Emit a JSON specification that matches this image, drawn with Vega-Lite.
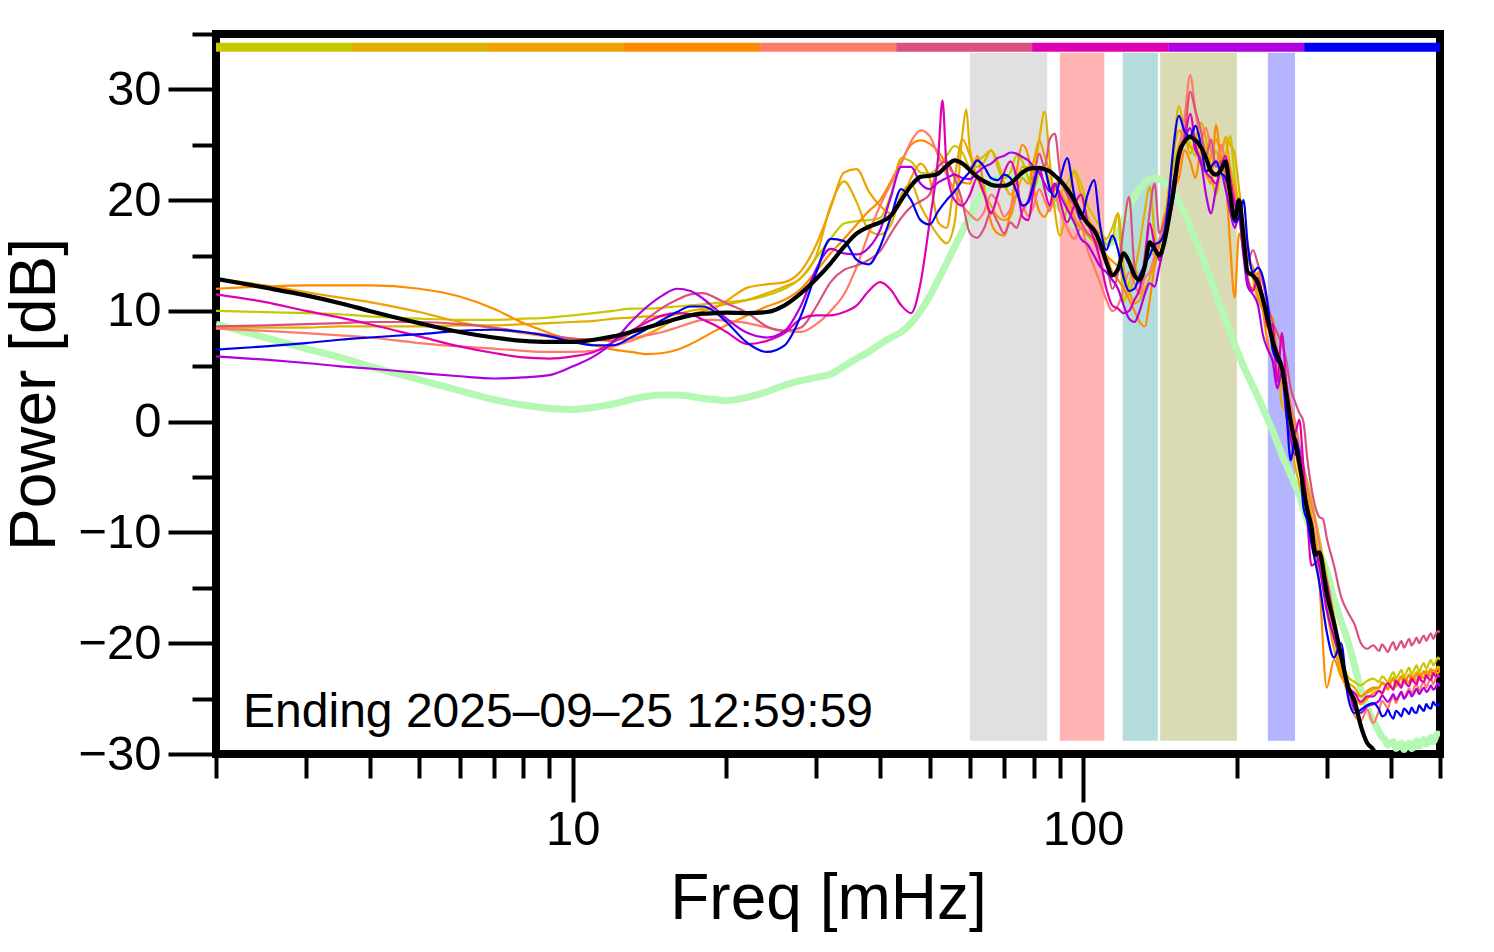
{
"$schema":"https://vega.github.io/schema/vega-lite/v6.json",
"width":1224,"height":720,
"autosize":{"type":"none"},
"padding":{"left":216,"top":34,"right":54,"bottom":198},
"config":{"view":{"stroke":"#000","strokeWidth":8},"font":"Liberation Sans"},
"resolve":{"axis":{"x":"independent","y":"independent"}},
"datasets":{
"bands":[{"lo":60,"hi":85,"band":"b1"},{"lo":90,"hi":110,"band":"b2"},{"lo":119.5,"hi":140,"band":"b3"},{"lo":141.5,"hi":200,"band":"b4"},{"lo":230,"hi":260,"band":"b5"}],
"bar":[{"lo":2,"hi":3.694,"s":"yg"},{"lo":3.694,"hi":6.824,"s":"go"},{"lo":6.824,"hi":12.6,"s":"or"},{"lo":12.6,"hi":23.28,"s":"do"},{"lo":23.28,"hi":43.0,"s":"sa"},{"lo":43.0,"hi":79.4,"s":"pk"},{"lo":79.4,"hi":146.7,"s":"mg"},{"lo":146.7,"hi":270.9,"s":"pu"},{"lo":270.9,"hi":500,"s":"bl"}],
"spec":[
{"f":2,"yg":10.0,"go":8.5,"or":12.9,"do":12.0,"sa":8.4,"pk":8.6,"mg":11.5,"pu":5.9,"bl":6.5,"gr":8.8,"bk":12.9},
{"f":2.5,"yg":9.9,"go":8.5,"or":12.3,"do":12.2,"sa":8.2,"pk":8.7,"mg":10.8,"pu":5.6,"bl":6.8,"gr":7.6,"bk":12.1},
{"f":3,"yg":9.8,"go":8.5,"or":11.7,"do":12.3,"sa":8.0,"pk":8.8,"mg":10.0,"pu":5.3,"bl":7.1,"gr":6.6,"bk":11.4},
{"f":3.5,"yg":9.7,"go":8.6,"or":11.2,"do":12.3,"sa":7.8,"pk":8.9,"mg":9.4,"pu":5.0,"bl":7.4,"gr":5.8,"bk":10.7},
{"f":4,"yg":9.5,"go":8.6,"or":10.8,"do":12.3,"sa":7.6,"pk":9.0,"mg":8.8,"pu":4.8,"bl":7.6,"gr":5.0,"bk":10.0},
{"f":5,"yg":9.3,"go":8.6,"or":9.9,"do":12.0,"sa":7.1,"pk":9.0,"mg":7.7,"pu":4.4,"bl":7.9,"gr":3.8,"bk":8.9},
{"f":6,"yg":9.2,"go":8.7,"or":9.0,"do":11.3,"sa":6.8,"pk":8.8,"mg":6.8,"pu":4.1,"bl":8.2,"gr":2.8,"bk":8.1},
{"f":7,"yg":9.2,"go":8.7,"or":8.4,"do":10.2,"sa":6.6,"pk":8.5,"mg":6.2,"pu":3.9,"bl":8.3,"gr":2.0,"bk":7.6},
{"f":8,"yg":9.3,"go":8.8,"or":8.0,"do":8.9,"sa":6.4,"pk":8.1,"mg":5.8,"pu":4.0,"bl":8.1,"gr":1.5,"bk":7.3},
{"f":9,"yg":9.4,"go":8.9,"or":7.7,"do":8.0,"sa":6.3,"pk":7.8,"mg":5.7,"pu":4.2,"bl":7.7,"gr":1.2,"bk":7.2},
{"f":10,"yg":9.6,"go":9.0,"or":7.5,"do":7.3,"sa":6.3,"pk":7.5,"mg":5.9,"pu":5.0,"bl":7.2,"gr":1.1,"bk":7.2},
{"f":11,"yg":9.8,"go":9.1,"or":7.4,"do":6.9,"sa":6.4,"pk":7.4,"mg":6.3,"pu":5.9,"bl":6.9,"gr":1.3,"bk":7.4},
{"f":12,"yg":10.0,"go":9.3,"or":7.4,"do":6.5,"sa":6.8,"pk":7.3,"mg":7.2,"pu":7.2,"bl":6.9,"gr":1.6,"bk":7.7},
{"f":13,"yg":10.2,"go":9.4,"or":7.5,"do":6.3,"sa":7.3,"pk":8.0,"mg":8.2,"pu":9.0,"bl":7.6,"gr":2.0,"bk":8.1},
{"f":14,"yg":10.2,"go":9.5,"or":7.9,"do":6.1,"sa":7.8,"pk":9.3,"mg":9.0,"pu":10.4,"bl":8.4,"gr":2.3,"bk":8.5},
{"f":15,"yg":10.3,"go":9.5,"or":8.6,"do":6.2,"sa":8.1,"pk":10.3,"mg":9.6,"pu":11.4,"bl":9.2,"gr":2.4,"bk":8.9},
{"f":16,"yg":10.4,"go":9.7,"or":9.3,"do":6.5,"sa":8.5,"pk":11.0,"mg":9.8,"pu":12.0,"bl":9.9,"gr":2.4,"bk":9.3},
{"f":17,"yg":10.5,"go":10.0,"or":9.7,"do":7.0,"sa":8.9,"pk":11.5,"mg":9.7,"pu":11.8,"bl":10.4,"gr":2.3,"bk":9.6},
{"f":18,"yg":10.6,"go":10.2,"or":10.0,"do":7.6,"sa":9.2,"pk":11.6,"mg":9.2,"pu":11.1,"bl":10.4,"gr":2.1,"bk":9.75},
{"f":19,"yg":10.7,"go":10.4,"or":10.3,"do":8.2,"sa":9.2,"pk":11.2,"mg":8.7,"pu":10.2,"bl":9.9,"gr":2.0,"bk":9.8},
{"f":20,"yg":10.8,"go":10.6,"or":10.9,"do":8.7,"sa":9.1,"pk":10.7,"mg":8.1,"pu":9.3,"bl":9.0,"gr":1.9,"bk":9.85},
{"f":22,"yg":11.0,"go":11.0,"or":12.1,"do":9.6,"sa":8.9,"pk":9.8,"mg":7.0,"pu":8.0,"bl":7.1,"gr":2.2,"bk":9.8},
{"f":24,"yg":11.4,"go":11.6,"or":12.4,"do":10.4,"sa":8.5,"pk":8.6,"mg":7.3,"pu":7.6,"bl":6.3,"gr":2.7,"bk":9.9},
{"f":26,"yg":12.0,"go":12.2,"or":12.6,"do":11.0,"sa":8.2,"pk":8.2,"mg":8.0,"pu":8.2,"bl":6.9,"gr":3.3,"bk":10.5},
{"f":28,"yg":13.0,"go":13.0,"or":13.6,"do":12.0,"sa":8.1,"pk":8.5,"mg":9.3,"pu":10.5,"bl":9.6,"gr":3.7,"bk":11.6},
{"f":30,"yg":14.8,"go":15.0,"or":16.0,"do":13.6,"sa":8.8,"pk":10.4,"mg":9.6,"pu":13.8,"bl":13.5,"gr":4.0,"bk":12.9},
{"f":32,"yg":16.5,"go":19.5,"or":19.3,"do":15.2,"sa":10.0,"pk":12.6,"mg":9.6,"pu":15.6,"bl":16.5,"gr":4.3,"bk":14.3},
{"f":34,"yg":17.9,"go":21.7,"or":22.5,"do":16.5,"sa":11.5,"pk":13.7,"mg":9.9,"pu":15.2,"bl":16.3,"gr":5.0,"bk":15.8},
{"f":36,"yg":18.1,"go":19.8,"or":22.8,"do":17.8,"sa":14.0,"pk":14.1,"mg":10.5,"pu":15.1,"bl":14.6,"gr":5.7,"bk":17.0},
{"f":38,"yg":18.2,"go":17.3,"or":20.8,"do":19.0,"sa":17.0,"pk":14.6,"mg":11.8,"pu":15.7,"bl":14.2,"gr":6.3,"bk":17.6},
{"f":40,"yg":18.4,"go":16.9,"or":19.5,"do":20.0,"sa":19.5,"pk":15.4,"mg":12.6,"pu":17.3,"bl":15.8,"gr":7.0,"bk":18.0},
{"f":42,"yg":20.5,"go":17.8,"or":18.8,"do":21.7,"sa":21.5,"pk":17.0,"mg":11.9,"pu":20.3,"bl":18.5,"gr":7.6,"bk":18.6},
{"f":44,"yg":23.8,"go":20.5,"or":19.8,"do":23.5,"sa":23.3,"pk":18.4,"mg":10.5,"pu":23.0,"bl":21.0,"gr":8.1,"bk":20.0},
{"f":46,"yg":23.5,"go":21.5,"or":22.0,"do":25.0,"sa":25.3,"pk":19.4,"mg":9.8,"pu":23.0,"bl":20.0,"gr":8.9,"bk":21.3},
{"f":48,"yg":22.5,"go":19.5,"or":23.3,"do":25.4,"sa":26.3,"pk":19.9,"mg":12.5,"pu":21.5,"bl":18.2,"gr":10.0,"bk":22.1},
{"f":50,"yg":22.4,"go":18.0,"or":22.0,"do":25.1,"sa":25.8,"pk":20.5,"mg":18.0,"pu":21.0,"bl":17.8,"gr":11.3,"bk":22.2},
{"f":52,"yg":23.0,"go":16.8,"or":18.0,"do":24.4,"sa":24.0,"pk":23.0,"mg":24.0,"pu":21.6,"bl":19.0,"gr":12.8,"bk":22.4},
{"f":53,"mg":29.0},
{"f":54,"yg":24.0,"go":16.1,"or":17.5,"do":23.2,"sa":22.3,"pk":23.5,"mg":23.0,"pu":22.0,"bl":20.0,"gr":14.3,"bk":23.1},
{"f":56,"yg":24.9,"go":18.0,"or":22.0,"do":22.3,"sa":20.8,"pk":22.0,"mg":20.0,"pu":22.3,"bl":20.8,"gr":15.8,"bk":23.6},
{"f":58,"yg":24.3,"go":26.0,"or":25.5,"do":21.6,"sa":19.5,"pk":19.8,"mg":19.5,"pu":22.0,"bl":21.8,"gr":17.2,"bk":23.3},
{"f":59,"go":28.2},
{"f":60,"yg":23.0,"go":24.5,"or":24.0,"do":21.5,"sa":18.7,"pk":17.0,"mg":20.5,"pu":21.9,"bl":22.6,"gr":18.6,"bk":22.7},
{"f":62,"yg":23.5,"go":23.0,"or":22.0,"do":24.0,"sa":18.2,"pk":16.6,"mg":22.0,"pu":22.5,"bl":23.6,"gr":19.9,"bk":22.1},
{"f":64,"yg":24.0,"go":23.5,"or":20.5,"do":21.0,"sa":19.0,"pk":17.5,"mg":20.5,"pu":23.0,"bl":23.0,"gr":20.9,"bk":21.7},
{"f":66,"yg":24.5,"go":24.5,"or":19.5,"do":18.0,"sa":20.5,"pk":19.0,"mg":18.8,"pu":23.3,"bl":22.0,"gr":21.6,"bk":21.4},
{"f":68,"yg":23.5,"go":23.0,"or":18.5,"do":17.0,"sa":19.8,"pk":18.0,"mg":20.5,"pu":23.8,"bl":21.8,"gr":21.9,"bk":21.3},
{"f":70,"yg":22.0,"go":21.5,"or":18.2,"do":16.8,"sa":18.5,"pk":17.0,"mg":22.5,"pu":24.0,"bl":22.3,"gr":22.1,"bk":21.3},
{"f":72,"yg":22.5,"go":20.5,"or":18.5,"do":19.0,"sa":19.2,"pk":18.0,"mg":23.5,"pu":24.3,"bl":22.0,"gr":22.2,"bk":21.5},
{"f":74,"yg":24.0,"go":21.5,"or":20.5,"do":22.5,"sa":20.5,"pk":17.5,"mg":22.0,"pu":24.2,"bl":20.8,"gr":22.2,"bk":22.0},
{"f":76,"yg":23.5,"go":23.0,"or":22.0,"do":25.0,"sa":19.6,"pk":19.0,"mg":18.5,"pu":23.9,"bl":19.5,"gr":22.1,"bk":22.5},
{"f":78,"yg":22.0,"go":23.0,"or":21.5,"do":24.0,"sa":18.6,"pk":20.0,"mg":18.2,"pu":23.6,"bl":19.8,"gr":22.0,"bk":22.8},
{"f":80,"yg":21.0,"go":22.5,"or":23.5,"do":21.0,"sa":19.5,"pk":22.0,"mg":21.0,"pu":23.0,"bl":21.5,"gr":21.8,"bk":22.9},
{"f":82,"yg":22.5,"go":25.5,"or":25.4,"do":19.0,"sa":21.0,"pk":24.2,"mg":23.0,"pu":22.5,"bl":23.0,"gr":21.5,"bk":22.9},
{"f":84,"yg":23.0,"go":28.0,"or":24.0,"do":18.5,"sa":20.0,"pk":23.0,"mg":21.0,"pu":21.5,"bl":22.8,"gr":21.1,"bk":22.8},
{"f":86,"yg":21.5,"go":23.5,"or":22.5,"do":19.5,"sa":19.0,"pk":25.5,"mg":19.5,"pu":20.8,"bl":21.0,"gr":20.7,"bk":22.6},
{"f":88,"yg":20.0,"go":19.0,"or":21.0,"do":21.0,"sa":20.5,"pk":26.0,"mg":21.5,"pu":21.5,"bl":20.3,"gr":20.0,"bk":22.2},
{"f":90,"yg":20.5,"go":16.8,"or":20.8,"do":22.0,"sa":19.0,"pk":22.5,"mg":20.0,"pu":20.5,"bl":21.8,"gr":19.3,"bk":21.8},
{"f":93,"yg":21.5,"go":19.5,"or":19.5,"do":20.5,"sa":17.5,"pk":20.5,"mg":18.0,"pu":19.2,"bl":23.8,"gr":18.5,"bk":21.0},
{"f":96,"yg":22.7,"go":22.5,"or":18.0,"do":18.5,"sa":16.5,"pk":19.5,"mg":19.5,"pu":18.0,"bl":20.5,"gr":17.8,"bk":20.0},
{"f":99,"yg":21.5,"go":20.5,"or":17.5,"do":17.5,"sa":17.5,"pk":18.0,"mg":20.5,"pu":16.5,"bl":18.3,"gr":17.2,"bk":18.8},
{"f":102,"yg":19.5,"go":18.5,"or":16.8,"do":17.0,"sa":15.5,"pk":17.0,"mg":18.0,"pu":16.0,"bl":20.5,"gr":16.8,"bk":17.9},
{"f":105,"yg":18.5,"go":17.5,"or":16.2,"do":16.5,"sa":14.0,"pk":16.5,"mg":16.5,"pu":15.0,"bl":21.8,"gr":16.5,"bk":17.3},
{"f":108,"yg":17.5,"go":17.0,"or":15.5,"do":16.0,"sa":12.5,"pk":15.5,"mg":14.5,"pu":14.0,"bl":17.6,"gr":16.2,"bk":16.1},
{"f":111,"yg":16.0,"go":16.5,"or":15.0,"do":15.0,"sa":11.0,"pk":14.5,"mg":12.0,"pu":13.5,"bl":15.5,"gr":16.1,"bk":14.4},
{"f":114,"yg":16.5,"go":17.5,"or":14.5,"do":13.5,"sa":10.0,"pk":12.0,"mg":10.5,"pu":12.8,"bl":16.8,"gr":16.2,"bk":13.2},
{"f":117,"yg":18.8,"go":18.8,"or":14.0,"do":12.8,"sa":10.5,"pk":13.5,"mg":10.2,"pu":12.0,"bl":15.5,"gr":17.0,"bk":13.8},
{"f":120,"yg":10.8,"go":14.0,"or":13.0,"do":12.0,"sa":12.0,"pk":17.5,"mg":9.8,"pu":10.5,"bl":13.0,"gr":18.2,"bk":15.2},
{"f":123,"yg":12.5,"go":11.5,"or":11.8,"do":11.0,"sa":13.5,"pk":20.3,"mg":10.0,"pu":9.3,"bl":11.8,"gr":19.3,"bk":14.4},
{"f":126,"yg":14.0,"go":13.5,"or":10.7,"do":10.0,"sa":12.5,"pk":14.0,"mg":11.0,"pu":9.0,"bl":12.0,"gr":20.3,"bk":13.2},
{"f":129,"yg":13.0,"go":16.0,"or":11.0,"do":9.0,"sa":11.5,"pk":12.5,"mg":12.0,"pu":10.0,"bl":13.2,"gr":21.0,"bk":12.8},
{"f":132,"yg":14.0,"go":19.0,"or":12.0,"do":8.6,"sa":13.0,"pk":15.0,"mg":14.5,"pu":11.5,"bl":14.2,"gr":21.6,"bk":14.0},
{"f":135,"yg":15.5,"go":21.2,"or":13.0,"do":11.0,"sa":13.5,"pk":19.0,"mg":17.9,"pu":12.5,"bl":15.0,"gr":21.9,"bk":16.2},
{"f":138,"yg":15.0,"go":17.0,"or":14.5,"do":14.0,"sa":15.0,"pk":21.5,"mg":16.0,"pu":12.2,"bl":16.0,"gr":22.0,"bk":15.6},
{"f":141,"yg":16.0,"go":14.5,"or":16.0,"do":16.0,"sa":16.5,"pk":17.0,"mg":14.6,"pu":14.0,"bl":16.2,"gr":21.9,"bk":15.0},
{"f":144,"yg":18.0,"go":17.0,"or":17.5,"do":18.5,"sa":17.5,"pk":18.0,"mg":16.5,"pu":16.0,"bl":17.0,"gr":21.7,"bk":16.1},
{"f":147,"yg":20.5,"go":20.0,"or":21.0,"do":19.5,"sa":19.0,"pk":19.5,"mg":18.0,"pu":18.5,"bl":20.0,"gr":21.2,"bk":18.2},
{"f":150,"yg":23.0,"go":24.0,"or":24.0,"do":21.0,"sa":21.5,"pk":21.0,"mg":20.0,"pu":21.5,"bl":24.5,"gr":20.8,"bk":20.6},
{"f":154,"yg":25.0,"go":28.5,"or":26.3,"do":22.0,"sa":24.5,"pk":24.0,"mg":23.5,"pu":24.0,"bl":27.6,"gr":19.8,"bk":24.2},
{"f":158,"yg":26.5,"go":26.0,"or":25.5,"do":24.5,"sa":27.5,"pk":26.0,"mg":25.5,"pu":25.5,"bl":26.2,"gr":18.8,"bk":25.3},
{"f":162,"yg":25.0,"go":24.2,"or":24.8,"do":23.5,"sa":31.3,"pk":29.8,"mg":27.8,"pu":26.5,"bl":25.8,"gr":17.6,"bk":25.7},
{"f":166,"yg":24.0,"go":25.5,"or":24.5,"do":22.0,"sa":28.0,"pk":28.0,"mg":25.0,"pu":24.5,"bl":26.7,"gr":16.4,"bk":25.4},
{"f":170,"yg":25.5,"go":27.0,"or":23.8,"do":24.5,"sa":25.5,"pk":26.3,"mg":23.3,"pu":23.5,"bl":25.0,"gr":15.2,"bk":24.8},
{"f":174,"yg":24.5,"go":25.5,"or":22.5,"do":22.5,"sa":26.5,"pk":24.0,"mg":22.5,"pu":20.5,"bl":22.6,"gr":14.0,"bk":23.8},
{"f":178,"yg":23.0,"go":22.5,"or":24.0,"do":21.5,"sa":24.5,"pk":25.5,"mg":22.0,"pu":18.8,"bl":23.0,"gr":12.8,"bk":22.6},
{"f":182,"yg":24.5,"go":20.5,"or":25.5,"do":26.8,"sa":23.0,"pk":23.0,"mg":21.5,"pu":21.0,"bl":23.5,"gr":11.5,"bk":22.3},
{"f":186,"yg":23.0,"go":23.0,"or":24.5,"do":23.5,"sa":25.0,"pk":23.5,"mg":23.0,"pu":22.5,"bl":22.5,"gr":10.3,"bk":22.7},
{"f":190,"yg":24.0,"go":25.7,"or":25.4,"do":22.0,"sa":23.5,"pk":22.8,"mg":24.0,"pu":21.0,"bl":22.0,"gr":9.2,"bk":23.5},
{"f":194,"yg":25.8,"go":25.0,"or":23.0,"do":16.0,"sa":22.0,"pk":21.5,"mg":22.0,"pu":19.0,"bl":20.5,"gr":8.1,"bk":20.6},
{"f":198,"yg":22.0,"go":24.2,"or":21.0,"do":11.2,"sa":20.5,"pk":20.0,"mg":19.7,"pu":17.5,"bl":18.0,"gr":7.0,"bk":18.3},
{"f":202,"yg":19.5,"go":21.0,"or":19.0,"do":17.0,"sa":19.0,"pk":19.0,"mg":18.5,"pu":18.5,"bl":18.5,"gr":6.0,"bk":20.0},
{"f":206,"yg":17.0,"go":18.0,"or":16.5,"do":15.5,"sa":17.5,"pk":16.0,"mg":15.5,"pu":15.0,"bl":20.0,"gr":5.0,"bk":16.7},
{"f":210,"yg":14.5,"go":16.0,"or":15.0,"do":13.0,"sa":15.0,"pk":14.5,"mg":12.8,"pu":12.2,"bl":16.0,"gr":4.2,"bk":13.5},
{"f":215,"yg":14.0,"go":13.0,"or":13.5,"do":12.0,"sa":13.8,"pk":15.5,"mg":11.8,"pu":11.5,"bl":13.5,"gr":3.2,"bk":13.2},
{"f":220,"yg":12.5,"go":11.0,"or":11.5,"do":13.5,"sa":12.0,"pk":14.2,"mg":13.0,"pu":10.5,"bl":13.9,"gr":2.2,"bk":12.5},
{"f":225,"yg":11.0,"go":10.1,"or":10.0,"do":10.0,"sa":11.5,"pk":12.5,"mg":11.0,"pu":7.8,"bl":13.0,"gr":1.2,"bk":11.0},
{"f":230,"yg":9.0,"go":9.8,"or":8.5,"do":7.0,"sa":9.5,"pk":10.5,"mg":8.5,"pu":6.5,"bl":10.5,"gr":0.2,"bk":9.2},
{"f":235,"yg":7.5,"go":9.4,"or":7.0,"do":5.5,"sa":8.0,"pk":9.0,"mg":8.8,"pu":5.5,"bl":6.5,"gr":-0.8,"bk":7.3},
{"f":240,"yg":6.0,"go":6.0,"or":5.5,"do":6.0,"sa":6.5,"pk":8.0,"mg":3.6,"pu":3.0,"bl":5.5,"gr":-1.9,"bk":6.0},
{"f":245,"yg":5.0,"go":1.5,"or":4.0,"do":3.5,"sa":5.0,"pk":7.0,"mg":8.0,"pu":4.5,"bl":4.8,"gr":-3.0,"bk":4.9},
{"f":250,"yg":3.0,"go":0.8,"or":2.5,"do":1.8,"sa":3.5,"pk":5.5,"mg":3.5,"pu":0.5,"bl":1.0,"gr":-3.9,"bk":2.5},
{"f":255,"yg":1.5,"go":-1.5,"or":0.5,"do":-1.0,"sa":1.5,"pk":3.0,"mg":0.5,"pu":-1.5,"bl":-3.5,"gr":-4.8,"bk":0.0},
{"f":260,"yg":-0.5,"go":-4.0,"or":-1.0,"do":-2.5,"sa":0.0,"pk":1.8,"mg":-1.0,"pu":-3.0,"bl":-1.5,"gr":-5.7,"bk":-1.9},
{"f":265,"yg":-2.5,"go":-5.6,"or":-3.0,"do":-4.5,"sa":-2.0,"pk":0.8,"mg":0.2,"pu":-2.5,"bl":-3.0,"gr":-6.6,"bk":-3.7},
{"f":270,"yg":-4.0,"go":-7.0,"or":-4.5,"do":-5.5,"sa":-4.0,"pk":0.0,"mg":-4.0,"pu":-6.5,"bl":-7.7,"gr":-7.8,"bk":-6.0},
{"f":275,"yg":-5.5,"go":-8.5,"or":-6.5,"do":-7.5,"sa":-6.0,"pk":-3.5,"mg":-9.0,"pu":-8.5,"bl":-9.0,"gr":-9.0,"bk":-8.0},
{"f":280,"yg":-7.0,"go":-10.0,"or":-8.5,"do":-9.5,"sa":-7.5,"pk":-6.0,"mg":-13.0,"pu":-10.0,"bl":-11.0,"gr":-9.8,"bk":-9.5},
{"f":285,"bk":-12.0},
{"f":290,"yg":-10.5,"go":-13.0,"or":-12.5,"do":-14.5,"sa":-11.0,"pk":-8.6,"mg":-12.5,"pu":-13.0,"bl":-14.5,"gr":-11.8,"bk":-11.8},
{"f":295,"pk":-8.8},
{"f":300,"yg":-14.0,"go":-16.5,"or":-17.0,"do":-24.0,"sa":-15.0,"pk":-10.5,"mg":-14.5,"pu":-17.0,"bl":-19.0,"gr":-13.5,"bk":-15.5},
{"f":310,"yg":-17.5,"go":-19.5,"or":-20.5,"do":-21.5,"sa":-18.5,"pk":-13.0,"mg":-18.0,"pu":-19.5,"bl":-21.3,"gr":-16.0,"bk":-18.2},
{"f":320,"yg":-21.0,"go":-22.0,"or":-22.5,"do":-23.0,"sa":-21.5,"pk":-15.8,"mg":-21.0,"pu":-21.5,"bl":-20.0,"gr":-18.0,"bk":-21.1},
{"f":330,"yg":-23.0,"go":-23.5,"or":-24.5,"do":-24.0,"sa":-24.5,"pk":-17.2,"mg":-23.9,"pu":-23.5,"bl":-24.8,"gr":-19.8,"bk":-23.9},
{"f":340,"yg":-23.5,"go":-24.0,"or":-25.0,"do":-24.5,"sa":-26.5,"pk":-18.3,"mg":-24.5,"pu":-26.0,"bl":-26.3,"gr":-22.0,"bk":-25.2},
{"f":350,"yg":-23.8,"go":-24.8,"or":-25.5,"do":-24.8,"sa":-27.0,"pk":-20.0,"mg":-25.3,"pu":-26.3,"bl":-26.0,"gr":-24.2,"bk":-27.5},
{"f":360,"yg":-23.4,"go":-24.5,"or":-25.0,"do":-24.3,"sa":-26.0,"pk":-20.5,"mg":-24.8,"pu":-25.7,"bl":-25.6,"gr":-25.8,"bk":-29.0},
{"f":370,"yg":-23.2,"go":-24.2,"or":-24.5,"do":-24.0,"sa":-27.2,"pk":-20.2,"mg":-24.8,"pu":-25.5,"bl":-25.4,"gr":-27.0,"bk":-29.6},
{"f":380,"yg":-23.5,"go":-24.0,"or":-24.3,"do":-24.0,"sa":-26.0,"pk":-20.7,"mg":-24.3,"pu":-25.2,"bl":-26.0,"gr":-28.0,"bk":-30.8},
{"f":385,"yg":-23.0,"go":-23.5,"or":-24.6,"do":-23.6,"sa":-25.2,"pk":-20.1,"mg":-24.5,"pu":-24.7,"bl":-26.6,"gr":-28.5},
{"f":390,"yg":-23.2,"go":-23.7,"or":-24.0,"do":-23.8,"sa":-25.5,"pk":-20.4,"mg":-24.0,"pu":-25.0,"bl":-26.5,"gr":-28.7,"bk":-31.5},
{"f":395,"yg":-23.5,"go":-24.1,"or":-23.6,"do":-24.2,"sa":-25.9,"pk":-20.8,"mg":-23.6,"pu":-25.3,"bl":-26.0,"gr":-29.2},
{"f":400,"yg":-23.0,"go":-23.5,"or":-23.8,"do":-23.6,"sa":-25.2,"pk":-20.3,"mg":-23.9,"pu":-25.0,"bl":-26.5,"gr":-29.0,"bk":-32},
{"f":405,"yg":-22.6,"go":-23.1,"or":-24.2,"do":-23.2,"sa":-24.8,"pk":-19.9,"mg":-24.2,"pu":-24.6,"bl":-26.8,"gr":-28.9},
{"f":410,"yg":-23.2,"go":-23.8,"or":-23.3,"do":-23.9,"sa":-25.4,"pk":-20.6,"mg":-23.4,"pu":-25.1,"bl":-26.1,"gr":-29.5},
{"f":415,"yg":-22.8,"go":-23.4,"or":-23.5,"do":-23.4,"sa":-24.8,"pk":-20.2,"mg":-23.7,"pu":-24.8,"bl":-26.3,"gr":-29.3,"bk":-32},
{"f":420,"yg":-22.4,"go":-23.0,"or":-23.9,"do":-23.0,"sa":-24.4,"pk":-19.8,"mg":-24.0,"pu":-24.4,"bl":-26.6,"gr":-29.0},
{"f":425,"yg":-23.0,"go":-23.6,"or":-23.1,"do":-23.6,"sa":-25.0,"pk":-20.4,"mg":-23.3,"pu":-25.0,"bl":-25.9,"gr":-29.6},
{"f":430,"yg":-22.6,"go":-23.2,"or":-23.3,"do":-23.2,"sa":-24.5,"pk":-20.0,"mg":-23.7,"pu":-24.7,"bl":-26.1,"gr":-29.2,"bk":-32},
{"f":435,"yg":-22.2,"go":-22.8,"or":-23.6,"do":-22.9,"sa":-24.1,"pk":-19.6,"mg":-23.9,"pu":-24.3,"bl":-26.4,"gr":-29.0},
{"f":440,"yg":-22.8,"go":-23.4,"or":-22.9,"do":-23.5,"sa":-24.6,"pk":-20.2,"mg":-23.2,"pu":-24.8,"bl":-25.8,"gr":-29.5},
{"f":445,"yg":-22.4,"go":-23.0,"or":-23.1,"do":-23.1,"sa":-24.0,"pk":-19.9,"mg":-23.5,"pu":-24.5,"bl":-26.2,"gr":-29.3,"bk":-32},
{"f":450,"yg":-22.0,"go":-22.6,"or":-23.4,"do":-22.8,"sa":-23.7,"pk":-19.5,"mg":-23.7,"pu":-24.1,"bl":-26.3,"gr":-28.8},
{"f":455,"yg":-22.6,"go":-23.2,"or":-22.7,"do":-23.3,"sa":-24.3,"pk":-20.0,"mg":-23.0,"pu":-24.6,"bl":-25.6,"gr":-29.3},
{"f":460,"yg":-22.1,"go":-22.8,"or":-22.9,"do":-22.9,"sa":-23.8,"pk":-19.6,"mg":-23.4,"pu":-24.3,"bl":-25.9,"gr":-29.0,"bk":-32},
{"f":465,"yg":-21.8,"go":-22.5,"or":-23.2,"do":-22.6,"sa":-23.5,"pk":-19.3,"mg":-23.5,"pu":-24.0,"bl":-26.1,"gr":-28.7},
{"f":470,"yg":-22.3,"go":-23.0,"or":-22.5,"do":-23.1,"sa":-24.0,"pk":-19.8,"mg":-22.9,"pu":-24.4,"bl":-25.5,"gr":-29.1},
{"f":475,"yg":-21.9,"go":-22.6,"or":-22.8,"do":-22.8,"sa":-23.5,"pk":-19.4,"mg":-23.2,"pu":-24.2,"bl":-25.8,"gr":-28.9,"bk":-32},
{"f":480,"yg":-21.5,"go":-22.3,"or":-23.0,"do":-22.5,"sa":-23.2,"pk":-19.1,"mg":-23.3,"pu":-23.8,"bl":-25.9,"gr":-28.5},
{"f":485,"yg":-22.0,"go":-22.8,"or":-22.4,"do":-22.9,"sa":-23.7,"pk":-19.6,"mg":-22.7,"pu":-24.2,"bl":-25.3,"gr":-28.9},
{"f":490,"yg":-21.7,"go":-22.5,"or":-22.6,"do":-22.6,"sa":-23.2,"pk":-19.2,"mg":-23.0,"pu":-24.0,"bl":-25.6,"gr":-28.5,"bk":-32},
{"f":495,"yg":-21.3,"go":-22.1,"or":-22.7,"do":-22.3,"sa":-22.9,"pk":-18.9,"mg":-23.0,"pu":-23.6,"bl":-25.6,"gr":-28.2},
{"f":500,"yg":-21.5,"go":-22.3,"or":-22.4,"do":-22.5,"sa":-23.0,"pk":-19.0,"mg":-22.9,"pu":-23.9,"bl":-25.4,"gr":-28.4,"bk":-32}
]},
"layer":[
{"data":{"name":"bands"},
 "mark":{"type":"rect"},
 "encoding":{
  "x":{"field":"lo","type":"quantitative","scale":{"type":"log","domain":[2,500],"nice":false},
   "axis":{"orient":"bottom","values":[10,100],"tickSize":48,
    "format":"d","tickWidth":4,"tickColor":"#000","domain":false,"grid":false,
    "labelFontSize":49,"labelColor":"#000","labelPadding":3,"labelFont":"Liberation Sans",
    "labelFlush":false,"labelOverlap":false,
    "title":"Freq [mHz]","titleFontSize":64,"titleFontWeight":"normal","titleColor":"#000","titlePadding":13,"titleFont":"Liberation Sans"}},
  "x2":{"field":"hi"},
  "y":{"datum":-28.8,"type":"quantitative","scale":{"domain":[-30,35],"nice":false,"zero":false},
   "axis":{"orient":"left","values":[-30,-20,-10,0,10,20,30],"tickSize":48,
    "format":"d","tickWidth":4,"tickColor":"#000","domain":false,"grid":false,
    "labelFontSize":49,"labelColor":"#000","labelPadding":7,"labelFont":"Liberation Sans",
    "labelFlush":false,"labelOverlap":false,
    "title":"Power [dB]","titleFontSize":64,"titleFontWeight":"normal","titleColor":"#000","titlePadding":10,"titleFont":"Liberation Sans"}},
  "y2":{"datum":33.3},
  "fill":{"field":"band","type":"nominal","scale":{"domain":["b1","b2","b3","b4","b5"],"range":["#e0e0e0","#ffb3b3","#b4dcdc","#dadbb5","#b4b4ff"]},"legend":null}
 }},
{"data":{"name":"bar"},
 "mark":{"type":"rect"},
 "encoding":{
  "x":{"field":"lo","type":"quantitative",
   "axis":{"orient":"bottom","values":[2,3,4,5,6,7,8,9,20,30,40,50,60,70,80,90,200,300,400,500],"tickSize":24,"tickWidth":4,"tickColor":"#000","domain":false,"grid":false,"labels":false,"title":null}},
  "x2":{"field":"hi"},
  "y":{"datum":33.4,"type":"quantitative",
   "axis":{"orient":"left","values":[-25,-15,-5,5,15,25,35],"tickSize":24,"tickWidth":4,"tickColor":"#000","domain":false,"grid":false,"labels":false,"title":null}},
  "y2":{"datum":34.2},
  "color":{"field":"s","type":"nominal","scale":{"domain":["yg","go","or","do","sa","pk","mg","pu","bl"],"range":["#c8c800","#e0b000","#f0a000","#ff8c00","#ff7a68","#dc5080","#e000b4","#b000e0","#0000f0"]},"legend":null}
 }},
{"data":{"name":"spec"},
 "transform":[{"fold":["yg","go","or","do","sa","pk","mg","pu","bl","gr","bk"],"as":["s","v"]},{"filter":"isValid(datum.v) && datum.s === 'gr'"}],
 "mark":{"type":"line","clip":true,"strokeWidth":7,"interpolate":"monotone","color":"#b4f8b4"},
 "encoding":{"x":{"field":"f","type":"quantitative","axis":null},"y":{"field":"v","type":"quantitative","axis":null}}},
{"data":{"name":"spec"},
 "transform":[{"fold":["yg","go","or","do","sa","pk","mg","pu","bl","gr","bk"],"as":["s","v"]},{"filter":"isValid(datum.v) && datum.s !== 'gr' && datum.s !== 'bk'"}],
 "mark":{"type":"line","clip":true,"strokeWidth":2.2,"interpolate":"monotone"},
 "encoding":{"x":{"field":"f","type":"quantitative","axis":null},"y":{"field":"v","type":"quantitative","axis":null},
  "stroke":{"field":"s","type":"nominal","scale":{"domain":["yg","go","or","do","sa","pk","mg","pu","bl"],"range":["#c8c800","#e0b000","#f0a000","#ff8c00","#ff7a68","#dc5080","#e000b4","#b000e0","#0000f0"]},"legend":null}}},
{"data":{"name":"spec"},
 "transform":[{"fold":["yg","go","or","do","sa","pk","mg","pu","bl","gr","bk"],"as":["s","v"]},{"filter":"isValid(datum.v) && datum.s === 'bk'"}],
 "mark":{"type":"line","clip":true,"strokeWidth":4.2,"interpolate":"monotone","color":"#000"},
 "encoding":{"x":{"field":"f","type":"quantitative","axis":null},"y":{"field":"v","type":"quantitative","axis":null}}},
{"data":{"values":[{}]},
 "mark":{"type":"text","align":"left","baseline":"alphabetic","fontSize":48,"font":"Liberation Sans","color":"#000"},
 "encoding":{"x":{"datum":2.26,"type":"quantitative","axis":null},"y":{"datum":-27.6,"type":"quantitative","axis":null},"text":{"value":"Ending 2025–09–25 12:59:59"}}}
]
}
